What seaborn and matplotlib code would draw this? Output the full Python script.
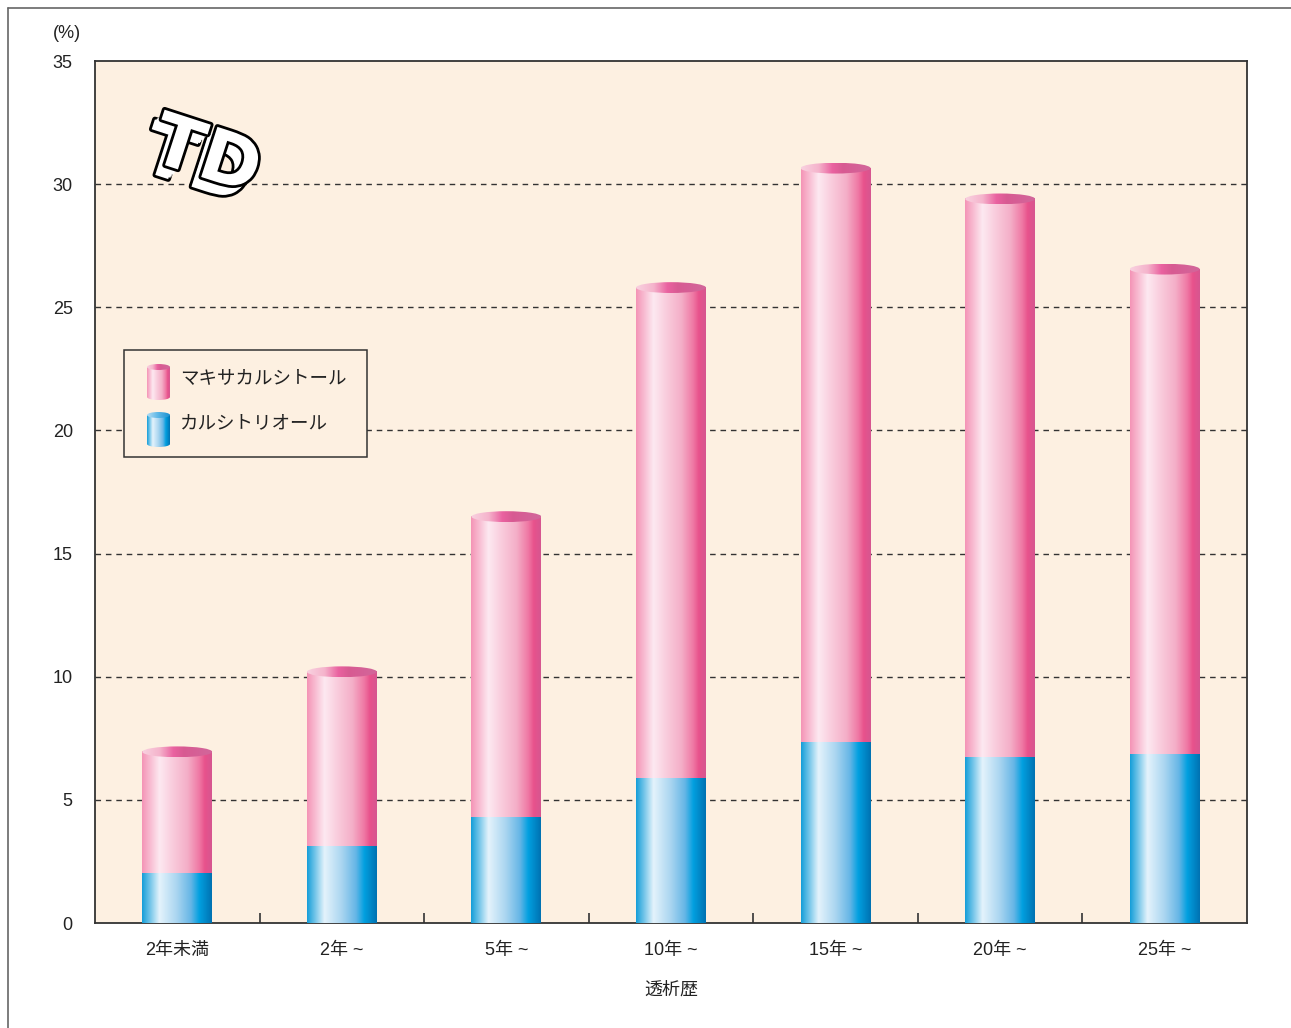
import numpy as np
import pandas as pd
import matplotlib
matplotlib.use("Agg")
import matplotlib.pyplot as plt
import seaborn as sns
from matplotlib.patches import Ellipse, Rectangle
from matplotlib.colors import LinearSegmentedColormap
from matplotlib.lines import Line2D
import matplotlib.patheffects as pe
from matplotlib import transforms

# ---- data ----
categories = ["2年未満", "2年 ~", "5年 ~", "10年 ~", "15年 ~", "20年 ~", "25年 ~"]
maxacalcitol_total = [6.95, 10.2, 16.5, 25.8, 30.65, 29.4, 26.55]   # top of stacked bar
calcitriol = [2.03, 3.09, 4.30, 5.85, 7.31, 6.72, 6.86]
series_names = ["マキサカルシトール", "カルシトリオール"]
yticks = [0, 5, 10, 15, 20, 25, 30, 35]

df = pd.DataFrame({"cat": categories, "total": maxacalcitol_total, "blue": calcitriol})

sns.set_theme(style="white")
plt.rcParams["font.family"] = ["Liberation Sans", "Noto Sans CJK JP", "DejaVu Sans"]

W, H = 1291, 1028
fig = plt.figure(figsize=(W / 100, H / 100), dpi=100)
ax = fig.add_axes([95 / W, 1 - 923 / H, (1247 - 95) / W, (923 - 61) / H])
bg = "#fdf0e1"
ax.set_facecolor(bg)

bw = 0.425
sns.barplot(data=df, x="cat", y="total", ax=ax, color="#f4a0c0", width=bw, zorder=2)
n_pink = len(ax.patches)
sns.barplot(data=df, x="cat", y="blue", ax=ax, color="#3aa8e0", width=bw, zorder=3)

pink_cmap = LinearSegmentedColormap.from_list("pink", [
    (0.0, "#f494b6"), (0.25, "#fde9f1"), (0.45, "#f9cadb"), (0.65, "#f4afc8"),
    (0.82, "#ef78a4"), (0.9, "#e8528c"), (1.0, "#d65690")])
blue_cmap = LinearSegmentedColormap.from_list("blue", [
    (0.0, "#149ed9"), (0.25, "#e4f3fc"), (0.5, "#a9d5f0"), (0.7, "#66b6e6"),
    (0.82, "#02a0e0"), (1.0, "#0072b2")])
cap_cmap = LinearSegmentedColormap.from_list("cap", [
    (0.0, "#f9d2e0"), (0.25, "#f5b4cc"), (0.45, "#ea62a0"), (0.6, "#d85a92"),
    (1.0, "#d2679b")])
bcap_cmap = LinearSegmentedColormap.from_list("bc", ["#b5def4", "#5ab6e6", "#1a90d0"])

grad = np.linspace(0, 1, 256).reshape(1, -1)


def paint(x0, x1, y0, y1, cmap, z, transform=None, clip=None):
    kw = {}
    if transform is not None:
        kw["transform"] = transform
    im = ax.imshow(grad, cmap=cmap, extent=[x0, x1, y0, y1], aspect="auto",
                   interpolation="bilinear", origin="lower", zorder=z, **kw)
    if clip is not None:
        im.set_clip_path(clip)
    return im


cap_h = 0.44
for i, p in enumerate(ax.patches):
    x0, w, h = p.get_x(), p.get_width(), p.get_height()
    p.set_facecolor("none")
    p.set_edgecolor("none")
    if i < n_pink:
        paint(x0, x0 + w, 0, h, pink_cmap, 2)
        e = Ellipse((x0 + w / 2, h), w, cap_h, facecolor="none", edgecolor="none",
                    transform=ax.transData)
        ax.add_patch(e)
        paint(x0, x0 + w, h - cap_h / 2, h + cap_h / 2, cap_cmap, 2.5, clip=e)
    else:
        paint(x0, x0 + w, 0, h, blue_cmap, 3)

ax.set_xlim(-0.5, len(categories) - 0.5)
ax.set_ylim(0, 35)
ax.set_yticks(yticks)
ax.set_yticklabels([str(v) for v in yticks], fontsize=13, color="#222222")
ax.set_xticks(range(len(categories)))
ax.set_xticklabels(categories, fontsize=13, color="#222222")
ax.set_xticks(np.arange(0.5, len(categories) - 0.5, 1), minor=True)
ax.tick_params(axis="x", which="major", length=0, pad=14)
ax.tick_params(axis="x", which="minor", length=7, width=1.2, direction="in",
               color="#333333", bottom=True)
ax.tick_params(axis="y", length=0, pad=16)
ax.set_xlabel("")
ax.set_ylabel("")

for v in yticks[1:-1]:
    ax.axhline(v, color="#333333", lw=1.0, ls=(0, (4, 3.5)), zorder=1)

for s in ax.spines.values():
    s.set_color("#333333")
    s.set_linewidth(1.3)
    s.set_visible(True)

# y unit label and x title
fig.text(67 / W, 1 - 34 / H, "(%)", ha="center", va="center", fontsize=13, color="#222222")
fig.text(671 / W, 1 - 990 / H, "透析歴", ha="center", va="center", fontsize=13, color="#222222")

# ---- legend (manual, gradient icons) ----
def ax_x(px):
    return (px - 95) / 1152


def ax_y(py):
    return (923 - py) / 862


ta = ax.transAxes
ax.add_patch(Rectangle((ax_x(124), ax_y(457)), ax_x(367) - ax_x(124), ax_y(350) - ax_y(457),
                       transform=ta, facecolor=bg, edgecolor="#333333", lw=1.1, zorder=6))

for (top, bot, cmap, ccap, label, ty) in [(367, 397, pink_cmap, cap_cmap, series_names[0], 379),
                                           (415, 444, blue_cmap, bcap_cmap, series_names[1], 424)]:
    x0, x1 = ax_x(147), ax_x(170)
    y0, y1 = ax_y(bot), ax_y(top)
    eh = 6 / 862
    paint(x0, x1, y0, y1, cmap, 7, transform=ta)
    eb = Ellipse(((x0 + x1) / 2, y0), x1 - x0, eh, transform=ta, facecolor="none", edgecolor="none")
    ax.add_patch(eb)
    paint(x0, x1, y0 - eh / 2, y0 + eh / 2, cmap, 7, transform=ta, clip=eb)
    et = Ellipse(((x0 + x1) / 2, y1), x1 - x0, eh, transform=ta, facecolor="none", edgecolor="none")
    ax.add_patch(et)
    paint(x0, x1, y1 - eh / 2, y1 + eh / 2, ccap, 7.5, transform=ta, clip=et)
    ax.text(ax_x(180), ax_y(ty), label, transform=ta, ha="left", va="center",
            fontsize=13.3, color="#222222", zorder=8)

# ---- logo (approximation of the 3D "TD" mark) ----
lx, ly = ax_x(206), ax_y(158)
offs = [(-7, -7), (-6, -6), (-5, -5), (-4, -4), (-3, -3), (-2, -2), (-1, -1)]
for k, (dx, dy) in enumerate(offs):
    tr = transforms.offset_copy(ta, fig=fig, x=dx, y=dy, units="points")
    ax.text(lx, ly, "TD", transform=tr, ha="center", va="center", fontsize=52,
            fontweight="bold", color="white", rotation=-18, zorder=9, family="DejaVu Sans",
            path_effects=[pe.withStroke(linewidth=4, foreground="black")] if k == 0 else None)
ax.text(lx, ly, "TD", transform=ta, ha="center", va="center", fontsize=52,
        fontweight="bold", color="white", rotation=-18, zorder=10, family="DejaVu Sans",
        path_effects=[pe.withStroke(linewidth=4, foreground="black")])

# outer frame lines
fig.add_artist(Line2D([8 / W, 1], [1 - 8 / H, 1 - 8 / H], color="#666666", lw=1.2))
fig.add_artist(Line2D([8 / W, 8 / W], [0, 1 - 8 / H], color="#666666", lw=1.2))

fig.savefig("out.png", dpi=100, facecolor="white")
